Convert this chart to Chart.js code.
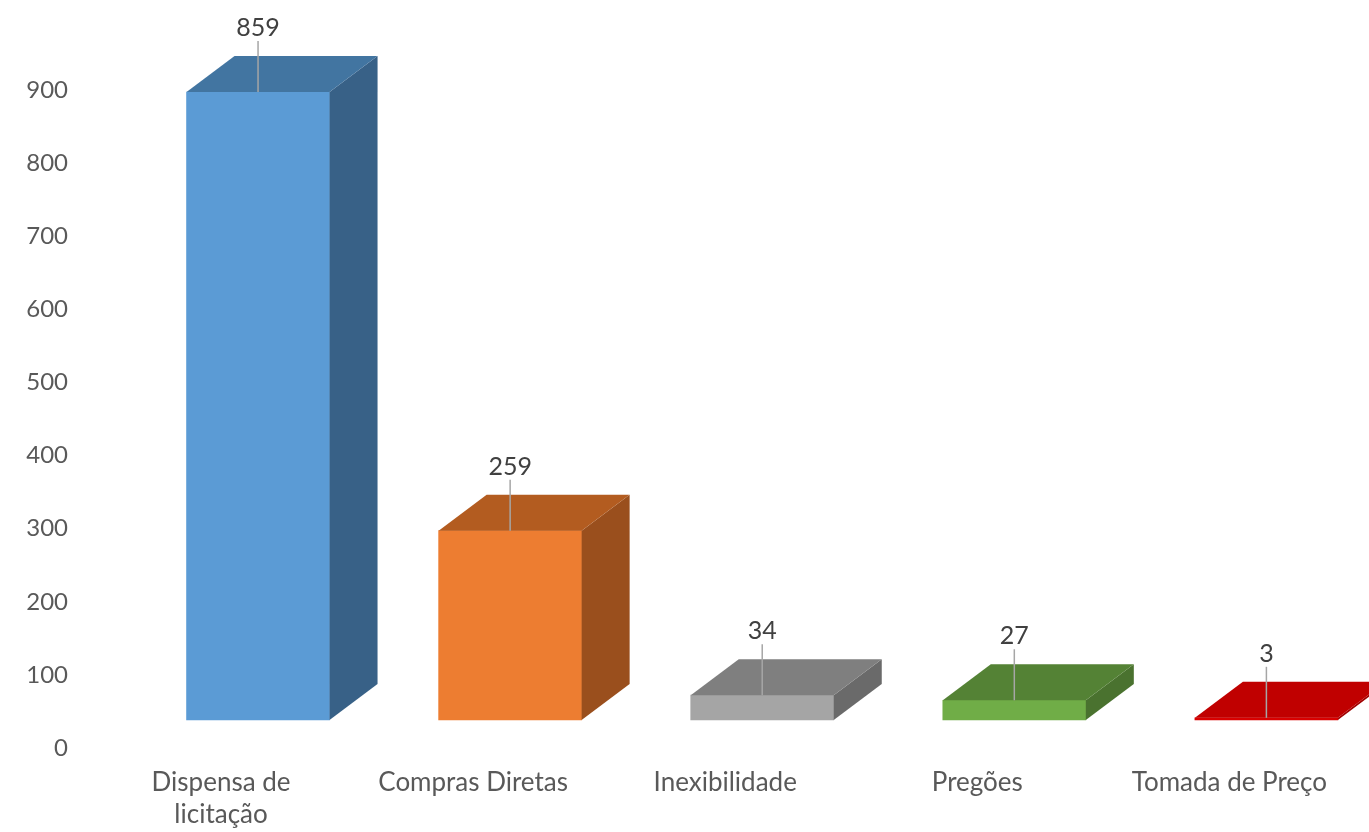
<!DOCTYPE html>
<html>
<head>
<meta charset="utf-8">
<script src="https://cdn.jsdelivr.net/npm/chart.js@4.4.0/dist/chart.umd.min.js"></script>
<style>
  html, body { margin: 0; padding: 0; background: #fff; }
  canvas { display: block; }
</style>
</head>
<body>
<canvas id="grafico" width="1369" height="832"></canvas>
<script>
// modalidades de contratação
var categorias = [['Dispensa de', 'licitação'], 'Compras Diretas', 'Inexibilidade', 'Pregões', 'Tomada de Preço'];
var quantidades = [859, 259, 34, 27, 3];
var ticksY = [0, 100, 200, 300, 400, 500, 600, 700, 800, 900];

// cores: frente, topo e lateral de cada coluna
var corFrente = ['#5B9BD5', '#ED7D31', '#A5A5A5', '#70AD47', '#D90000'];
var corTopo = ['#4275A1', '#B35C20', '#7F7F7F', '#548235', '#C00000'];
var corLado = ['#386187', '#9A4F1D', '#6A6A6A', '#4A722F', '#A00000'];

var PROF_X = 48, PROF_Y = 36;   // profundidade do "3D"
var FONTE = '25px Lato';

// desenha topo, lateral, linha guia e rótulo de cada coluna
var cubo3d = {
  id: 'cubo3d',
  afterDatasetsDraw: function(chart) {
    var ctx = chart.ctx;
    var meta = chart.getDatasetMeta(0);
    ctx.save();
    meta.data.forEach(function(bar, i) {
      var p = bar.getProps(['x', 'y', 'base', 'width'], true);
      var esq = p.x - p.width / 2, dir = p.x + p.width / 2;

      // lateral
      ctx.fillStyle = corLado[i];
      ctx.beginPath();
      ctx.moveTo(dir, p.y);
      ctx.lineTo(dir + PROF_X, p.y - PROF_Y);
      ctx.lineTo(dir + PROF_X, p.base - PROF_Y);
      ctx.lineTo(dir, p.base);
      ctx.closePath();
      ctx.fill();

      // topo
      ctx.fillStyle = corTopo[i];
      ctx.beginPath();
      ctx.moveTo(esq, p.y);
      ctx.lineTo(esq + PROF_X, p.y - PROF_Y);
      ctx.lineTo(dir + PROF_X, p.y - PROF_Y);
      ctx.lineTo(dir, p.y);
      ctx.closePath();
      ctx.fill();

      // linha guia do rótulo
      var yRotulo = p.y - PROF_Y - 28;
      ctx.strokeStyle = '#A6A6A6';
      ctx.lineWidth = 1.5;
      ctx.beginPath();
      ctx.moveTo(p.x, yRotulo + 13);
      ctx.lineTo(p.x, p.y);
      ctx.stroke();

      // rótulo de valor
      ctx.fillStyle = '#404040';
      ctx.font = FONTE;
      ctx.textAlign = 'center';
      ctx.textBaseline = 'middle';
      ctx.fillText(quantidades[i], p.x, yRotulo);
    });
    ctx.restore();
  }
};

var ctx = document.getElementById('grafico').getContext('2d');
var grafico = new Chart(ctx, {
  type: 'bar',
  data: {
    datasets: [{
      data: quantidades.map(function(v, i) { return { x: i, y: v }; }),
      backgroundColor: corFrente,
      borderWidth: 0,
      barThickness: 143,
      xAxisID: 'x',
      yAxisID: 'y2',
      clip: false
    }]
  },
  options: {
    responsive: false,
    animation: false,
    layout: { padding: { left: 0, right: 0, top: 90, bottom: 0 } },
    plugins: {
      legend: { display: false },
      tooltip: { enabled: false }
    },
    scales: {
      x: {
        type: 'linear',
        bounds: 'data',
        offset: false,
        min: -0.5,
        max: 4.407,
        grid: { display: false, drawTicks: false },
        border: { display: false },
        afterBuildTicks: function(s) {
          s.ticks = categorias.map(function(c, i) { return { value: i }; });
        },
        // rótulos deslocados: sem folga extra nas bordas
        afterFit: function(s) {
          s.height = 84;
          s.paddingLeft = 0;
          s.paddingRight = 0;
        },
        ticks: {
          autoSkip: false,
          maxRotation: 0,
          padding: 19,
          labelOffset: -37,
          color: '#595959',
          font: { family: 'Lato', size: 26, lineHeight: '32px' },
          callback: function(v) { return categorias[v]; }
        }
      },
      y: {
        position: 'left',
        min: 0,
        max: 900,
        grid: { display: false, drawTicks: false },
        border: { display: false },
        afterBuildTicks: function(s) {
          s.ticks = ticksY.map(function(v) { return { value: v }; });
        },
        afterFit: function(s) { s.width = 132; },
        ticks: {
          padding: 64,
          color: '#595959',
          font: { family: 'Lato', size: 24 }
        }
      },
      // eixo das colunas: mesma escala, base deslocada para cima
      y2: {
        display: false,
        min: -38.3,
        max: 861.7
      }
    }
  },
  plugins: [cubo3d]
});
</script>
</body>
</html>
